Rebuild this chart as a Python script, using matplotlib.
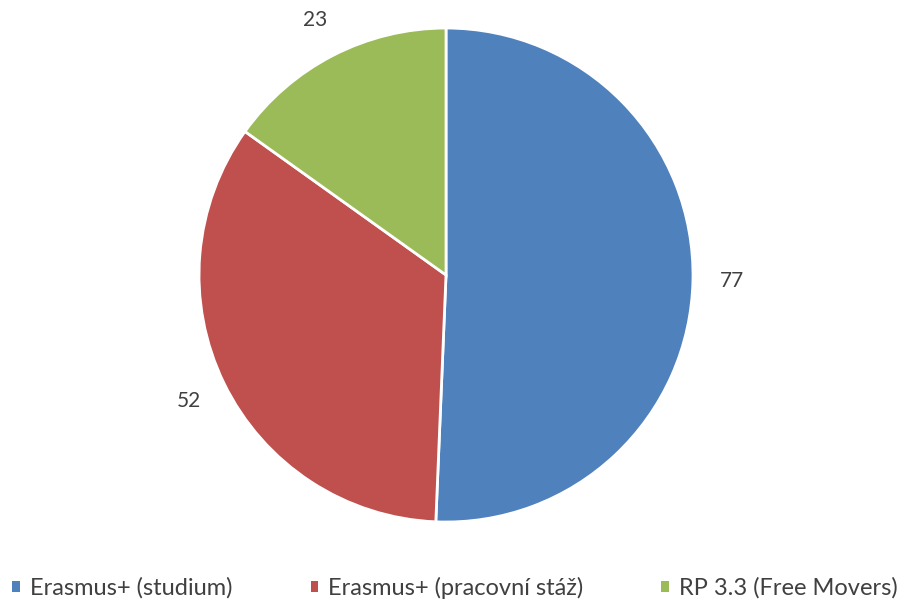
import matplotlib.pyplot as plt
from matplotlib.patches import Patch

labels = ["Erasmus+ (studium)", "Erasmus+ (pracovní stáž)", "RP 3.3 (Free Movers)"]
values = [77, 52, 23]
colors = ["#4F81BD", "#C0504D", "#9BBB59"]

plt.rcParams['font.family'] = ['Lato', 'DejaVu Sans']

fig = plt.figure(figsize=(9.05, 6.01), dpi=100)
ax = fig.add_axes([0.2199, 0.1314, 494 / 905, 494 / 601])

wedges, texts = ax.pie(values, labels=[str(v) for v in values], colors=colors,
                       startangle=90, counterclock=False, labeldistance=1.16,
                       wedgeprops=dict(edgecolor="white", linewidth=2),
                       textprops=dict(fontsize=15, color="#404040"))
for t in texts:
    t.set_ha("center")
    t.set_va("center")
ax.set_xlim(-1, 1)
ax.set_ylim(-1, 1)
ax.set_aspect("equal")

handles = [Patch(facecolor=c, edgecolor="none") for c in colors]
leg = fig.legend(handles, labels, loc="center", bbox_to_anchor=(0.503, 1 - 588 / 601),
                 ncol=3, frameon=False, fontsize=17, handlelength=0.3, handleheight=0.3,
                 handletextpad=0.45, columnspacing=3.3, borderpad=0, borderaxespad=0)
for t in leg.get_texts():
    t.set_color("#404040")

fig.savefig("out.png", dpi=100)
